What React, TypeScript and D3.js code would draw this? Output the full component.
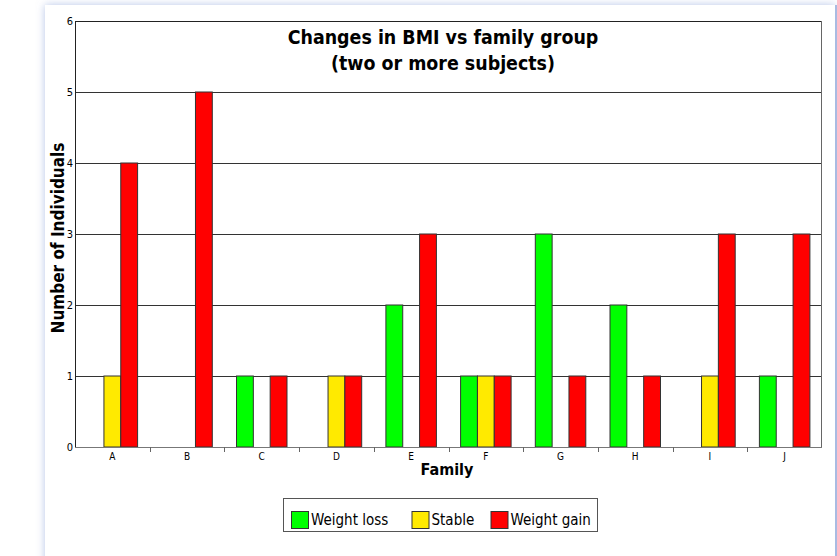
import React from 'react'
import * as d3 from 'd3'

const families = ['A', 'B', 'C', 'D', 'E', 'F', 'G', 'H', 'I', 'J']
const seriesNames = ['Weight loss', 'Stable', 'Weight gain']
const seriesColors = ['#00ff00', '#ffea00', '#ff0000']
const weightLoss = [0, 0, 1, 0, 2, 1, 3, 2, 0, 1]
const stable = [1, 0, 0, 1, 0, 1, 0, 0, 1, 0]
const weightGain = [4, 5, 1, 1, 3, 1, 1, 1, 3, 3]
const yTicks = [0, 1, 2, 3, 4, 5, 6]

const W = 837
const H = 556
const left = 75
const right = 822
const top = 21
const bottom = 447
const FONT = '"DejaVu Sans Condensed", Roboto, sans-serif'

export default function App() {
  const values = [weightLoss, stable, weightGain]
  const x = d3.scaleBand<string>().domain(families).range([left, right]).padding(0)
  const bw = x.bandwidth()
  const inner = d3
    .scaleBand<string>()
    .domain(seriesNames)
    .range([bw * 0.162, bw * 0.838])
  const y = d3.scaleLinear().domain([0, 6]).range([bottom, top])

  const legendX = [291, 411.5, 490.5]

  return (
    <svg width={W} height={H} style={{ position: 'absolute', left: 0, top: 0 }} fontFamily={FONT}>
      <defs>
        <filter id="sh" x="-5%" y="-5%" width="110%" height="110%">
          <feDropShadow dx="0" dy="0" stdDeviation="4" floodColor="#7b95d4" floodOpacity="0.55" />
        </filter>
      </defs>
      <rect x={0} y={0} width={W} height={H} fill="#fff" />
      <rect x={45} y={5} width={790} height={620} fill="#fff" filter="url(#sh)" />
      <rect x={835} y={5} width={2} height={H} fill="#a9bbe2" />

      {/* grid */}
      {yTicks.slice(1, -1).map((t) => (
        <line key={t} x1={left} x2={right} y1={Math.round(y(t)) + 0.5} y2={Math.round(y(t)) + 0.5} stroke="#333" />
      ))}

      {/* bars */}
      {families.map((f, i) => (
        <g key={f} transform={`translate(${x(f)},0)`}>
          {seriesNames.map((s, k) =>
            values[k][i] > 0 ? (
              <rect
                key={s}
                x={inner(s)}
                y={y(values[k][i])}
                width={inner.bandwidth()}
                height={bottom - y(values[k][i])}
                fill={seriesColors[k]}
                stroke="#333"
                strokeWidth={1}
              />
            ) : null
          )}
        </g>
      ))}

      {/* frame */}
      <line x1={left} x2={right} y1={top + 0.5} y2={top + 0.5} stroke="#222" />
      <line x1={left + 0.5} x2={left + 0.5} y1={top} y2={bottom} stroke="#222" />
      <line x1={right - 0.5} x2={right - 0.5} y1={top} y2={bottom} stroke="#666" />
      <line x1={left} x2={right} y1={bottom + 0.5} y2={bottom + 0.5} stroke="#777" />

      {/* y ticks */}
      {yTicks.map((t) => (
        <text key={t} x={left - 2} y={y(t) + 4} textAnchor="end" fontSize={11} fill="#000">
          {t}
        </text>
      ))}

      {/* x ticks */}
      {families.slice(1).map((f) => (
        <line key={f} x1={Math.round(x(f)!) + 0.5} x2={Math.round(x(f)!) + 0.5} y1={bottom} y2={bottom + 5} stroke="#666" />
      ))}
      {families.map((f) => (
        <text key={f} x={x(f)! + bw / 2} y={460} textAnchor="middle" fontSize={10} fill="#000">
          {f}
        </text>
      ))}

      {/* titles */}
      <text x={443} y={44} textAnchor="middle" fontSize={19.4} fontWeight="bold">
        Changes in BMI vs family group
      </text>
      <text x={443} y={70} textAnchor="middle" fontSize={19.4} fontWeight="bold">
        (two or more subjects)
      </text>
      <text x={447} y={475} textAnchor="middle" fontSize={16} fontWeight="bold">
        Family
      </text>
      <text transform={`translate(64,${(top + bottom) / 2 + 4}) rotate(-90)`} textAnchor="middle" fontSize={17} fontWeight="bold">
        Number of Individuals
      </text>

      {/* legend */}
      <rect x={283.5} y={498.5} width={314} height={33} fill="#fff" stroke="#555" />
      {seriesNames.map((s, k) => (
        <g key={s}>
          <rect x={legendX[k] + 0.5} y={511.5} width={17} height={17} fill={seriesColors[k]} stroke="#333" />
          <text x={legendX[k] + 20} y={525} fontSize={15} fill="#000">
            {s}
          </text>
        </g>
      ))}
    </svg>
  )
}
